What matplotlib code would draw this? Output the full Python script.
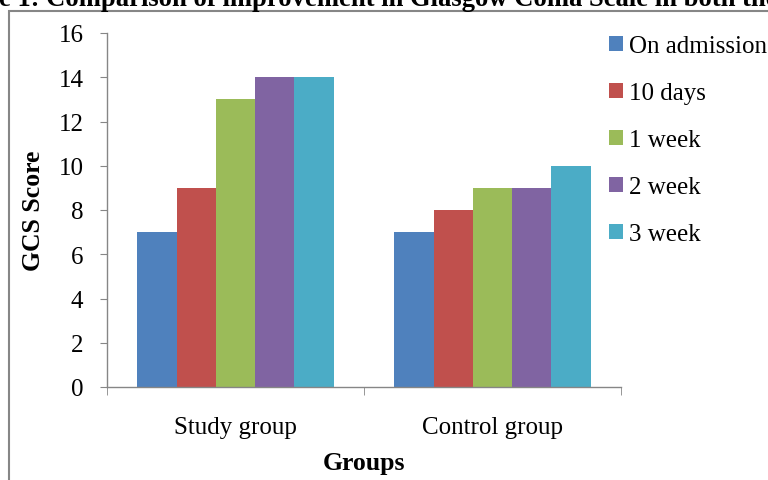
import matplotlib
matplotlib.use("Agg")
import matplotlib.pyplot as plt
from matplotlib.patches import Rectangle, Patch
import numpy as np

groups = ["Study group", "Control group"]
series = ["On admission", "10 days", "1 week", "2 week", "3 week"]
values = {
    "On admission": [7, 7],
    "10 days": [9, 8],
    "1 week": [13, 9],
    "2 week": [14, 9],
    "3 week": [14, 10],
}
colors = ["#4F81BD", "#C0504D", "#9BBB59", "#8064A2", "#4BACC6"]
yticks = [0, 2, 4, 6, 8, 10, 12, 14, 16]

plt.rcParams['font.family'] = ['Liberation Serif', 'DejaVu Serif']

W, H = 768, 481
fig = plt.figure(figsize=(W / 100, H / 100), dpi=100)

# outer frame (extends past right/bottom edges)
fig.patches.append(Rectangle((9 / W, -0.1), 1.2, 1 - 12 / H + 0.1,
                             transform=fig.transFigure, fill=False,
                             edgecolor="#868686", linewidth=1.5))

# cropped title
fig.text(-1 / W, 1 - 6 / H,
         "e 1: Comparison of improvement in Glasgow Coma Scale in both the groups",
         ha="left", va="baseline", fontsize=19.2, fontweight="bold")

ax = fig.add_axes([107 / W, 1 - 388 / H, (621 - 107) / W, (388 - 34) / H])

n = len(series)
bw = 0.153
x = np.arange(len(groups))
for i, (s, c) in enumerate(zip(series, colors)):
    ax.bar(x + (i - (n - 1) / 2) * bw, values[s], width=bw, color=c,
           edgecolor="none", label=s)

ax.set_xlim(-0.5, len(groups) - 0.5)
ax.set_ylim(0, 16)
ax.set_yticks(yticks)
ax.set_yticklabels([str(t) for t in yticks], fontsize=18)
ax.set_xticks(x)
ax.set_xticklabels(groups, fontsize=18)
ax.set_xticks(np.arange(-0.5, len(groups)), minor=True)
ax.tick_params(axis="x", which="major", length=0, pad=21)
ax.tick_params(axis="x", which="minor", length=6, color="#868686", direction="out")
ax.tick_params(axis="y", which="major", length=5, color="#868686", direction="out", pad=12)

for sp in ["top", "right"]:
    ax.spines[sp].set_visible(False)
for sp in ["left", "bottom"]:
    ax.spines[sp].set_color("#868686")
    ax.spines[sp].set_linewidth(1.0)

ax.set_xlabel("Groups", fontsize=18.5, fontweight="bold", labelpad=9)
ax.set_ylabel("GCS Score", fontsize=18.5, fontweight="bold", labelpad=10)

handles = [Patch(facecolor=c, edgecolor="none") for c in colors]
fig.legend(handles, series, loc="upper left", bbox_to_anchor=(609 / W, 1 - 36 / H),
           frameon=False, fontsize=18, handlelength=0.55, handleheight=0.55,
           handletextpad=0.25, labelspacing=1.0, borderaxespad=0, borderpad=0)

fig.savefig("out.png", dpi=100)
